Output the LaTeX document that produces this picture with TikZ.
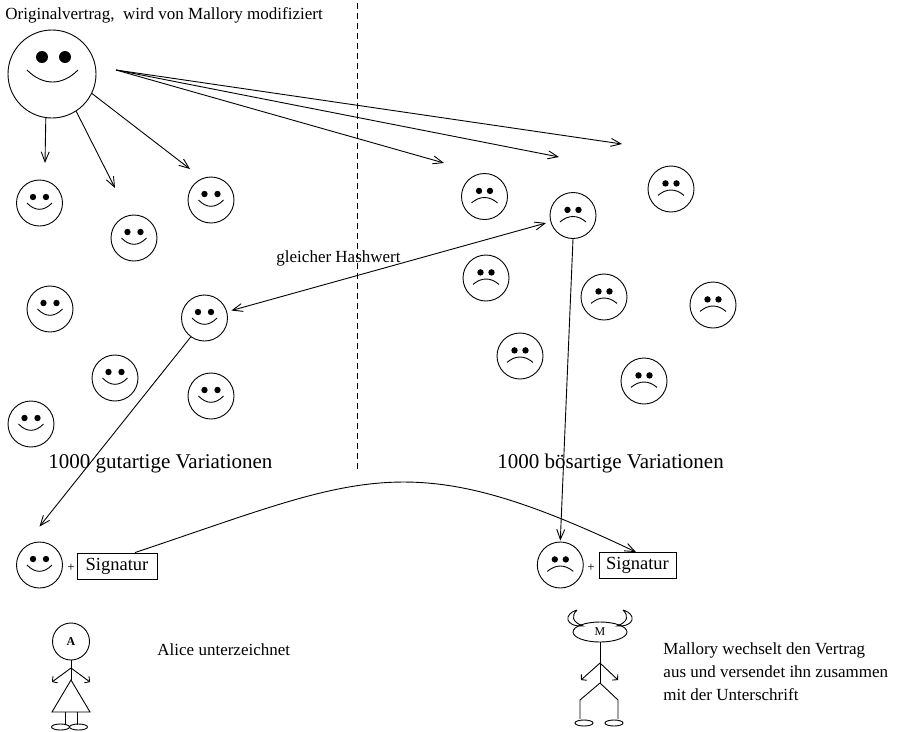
\documentclass[tikz,border=0pt]{standalone}
\usepackage{fontspec}
\setmainfont{Liberation Serif}
\usepackage{tikz}
\usetikzlibrary{arrows.meta}
\usetikzlibrary{shapes.geometric}

\tikzset{
  gesicht/.style={draw, circle, minimum size=46pt, inner sep=0pt},
  pfeil/.style={-{Straight Barb[length=10pt,width=8pt]}},
  hand/.style={-{Straight Barb[length=3.5pt,width=8pt]}},
  schrift/.style={anchor=base west, inner sep=0pt, font=\fontsize{17}{23}\selectfont},
  gross/.style={anchor=base west, inner sep=0pt, font=\fontsize{21}{24}\selectfont},
  fuss/.style={draw, ellipse, minimum width=18pt, minimum height=6pt, inner sep=0pt},
}
% lachendes Gesicht: Name, x, y
\newcommand{\froh}[3]{%
  \node[gesicht] (#1) at (#2,#3) {};
  \fill ([shift={(-6.5,-6)}]#1.center) circle[radius=3.2pt];
  \fill ([shift={(6.5,-6)}]#1.center) circle[radius=3.2pt];
  \draw ([shift={(-12.5,0)}]#1.center) .. controls +(8,8.4) and +(-8,8.4) .. ([shift={(12.5,0)}]#1.center);
}
% trauriges Gesicht: Name, x, y
\newcommand{\traurig}[3]{%
  \node[gesicht] (#1) at (#2,#3) {};
  \fill ([shift={(-5.5,-5.6)}]#1.center) circle[radius=3.2pt];
  \fill ([shift={(5.5,-5.6)}]#1.center) circle[radius=3.2pt];
  \draw ([shift={(-13,6.4)}]#1.center) .. controls +(8.5,-7.2) and +(-8.5,-7.2) .. ([shift={(13,6.4)}]#1.center);
}

\begin{document}
\begin{tikzpicture}[x=1pt, y=-1pt, line width=0.9pt]
\useasboundingbox (0,0) rectangle (901,731);

% Original
\node[schrift] (titel) at (5,19) {Originalvertrag, \ wird von Mallory modifiziert};
\node[draw, circle, minimum size=88pt, inner sep=0pt] (orig) at (52,74) {};
\fill ([shift={(-10,-17)}]orig.center) circle[radius=6pt];
\fill ([shift={(13,-17)}]orig.center) circle[radius=6pt];
\draw ([shift={(-25,-4)}]orig.center) .. controls +(16,16) and +(-16,16) .. ([shift={(26,-4)}]orig.center);

\draw[dash pattern=on 6pt off 4pt] (357,3) -- (357,470);

% gutartige Variationen
\froh{g1}{39.5}{203}
\froh{g2}{134}{238}
\froh{g3}{211}{200}
\froh{g4}{50}{309}
\froh{g5}{204.5}{318}
\froh{g6}{115}{378}
\froh{g7}{211}{396}
\froh{g8}{31}{424}

% boesartige Variationen
\traurig{b1}{484.5}{196.5}
\traurig{b2}{573}{215.5}
\traurig{b3}{671}{189}
\traurig{b4}{486}{278}
\traurig{b5}{604}{297}
\traurig{b6}{713}{305}
\traurig{b7}{520}{356}
\traurig{b8}{644}{381}

\coordinate (fan) at (116,70);
\coordinate (t1) at (45,163);
\coordinate (t2) at (115,188);
\coordinate (t3) at (190,169);
\coordinate (t4) at (444,163);
\coordinate (t5) at (559,157);
\coordinate (t6) at (622,144);
\draw[pfeil] (orig.-98) -- (t1);
\draw[pfeil] (orig.-57) -- (t2);
\draw[pfeil] (orig.-26) -- (t3);
\draw[pfeil] (fan) -- (t4);
\draw[pfeil] (fan) -- (t5);
\draw[pfeil] (fan) -- (t6);

\node[schrift] (hash) at (276,262) {gleicher Hashwert};
\draw[{Straight Barb[length=10pt,width=8pt]}-{Straight Barb[length=10pt,width=8pt]}, shorten <=4.5pt, shorten >=4.5pt] (g5) -- (b2);

\node[gross] (gut) at (48,468) {1000 gutartige Variationen};
\node[gross] (boes) at (497,468) {1000 bösartige Variationen};

% signierte Vertraege
\froh{gs}{39.5}{565}
\node[font=\fontsize{13}{13}\selectfont, inner sep=0pt] (plusg) at (71,568) {+};
\node[draw, minimum width=80pt, minimum height=26pt, inner sep=0pt, font=\fontsize{18.5}{22}\selectfont] (sigg) at (117,566) {Signatur};
\traurig{bs}{560.3}{565}
\node[font=\fontsize{13}{13}\selectfont, inner sep=0pt] (plusb) at (591,568) {+};
\node[draw, minimum width=77pt, minimum height=26pt, inner sep=0pt, font=\fontsize{18.5}{22}\selectfont] (sigb) at (637.5,565.5) {Signatur};

\draw[pfeil] (g5.-126) -- ([yshift=15pt]gs.north);
\draw[pfeil] (b2.south) -- ([yshift=1pt]bs.north);
\draw[pfeil] ([xshift=18pt]sigg.north) .. controls (364,476) and (407,443) .. ([xshift=-1.5pt]sigb.north);

% Alice
\node[draw, circle, minimum size=37pt, inner sep=0pt, font=\fontsize{12}{12}\selectfont\bfseries] (alice) at (71,641.5) {A};
\draw (alice.south) -- (71,680);
\draw[hand] (71,668) -- (52,682);
\draw[hand] (71,668) -- (90,682);
\draw (71,680) -- (52,712) -- (90,712) -- cycle;
\draw (65,712) -- (65,725) (77,712) -- (77,725);
\node[fuss] (afl) at (60.5,727) {};
\node[fuss] (afr) at (78.5,727) {};
\node[schrift] (atext) at (157,655) {Alice unterzeichnet};

% Mallory
\node[draw, ellipse, minimum width=54pt, minimum height=20pt, inner sep=0pt, font=\fontsize{12}{12}\selectfont] (mallory) at (600,632) {M};
\draw (577,610) .. controls (563,614) and (565,627) .. (583,626) .. controls (572,622) and (571,616) .. (577,610);
\draw (623,610) .. controls (637,614) and (635,627) .. (617,626) .. controls (628,622) and (629,616) .. (623,610);
\draw (mallory.south) -- (600,683);
\draw[hand] (600,663) -- (581,680);
\draw[hand] (600,663) -- (618,680);
\draw (600,683) -- (580,700) -- (580,719);
\draw (600,683) -- (618,700) -- (618,719);
\node[fuss] (mfl) at (584,723) {};
\node[fuss] (mfr) at (614,723) {};
\node[schrift] (mtext1) at (663,654) {Mallory wechselt den Vertrag};
\node[schrift] (mtext2) at (663,677) {aus und versendet ihn zusammen};
\node[schrift] (mtext3) at (663,700) {mit der Unterschrift};

\end{tikzpicture}
\end{document}
